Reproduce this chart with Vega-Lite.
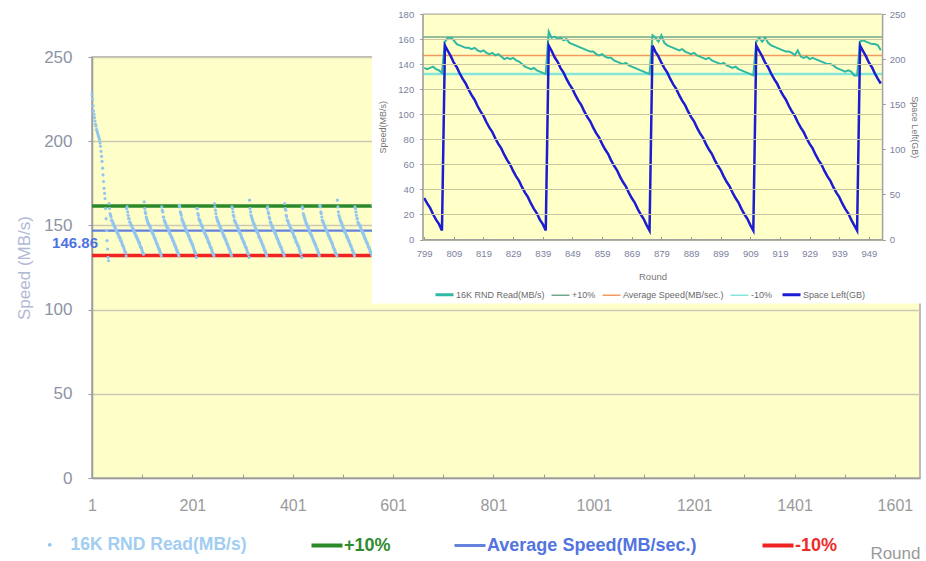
{
  "$schema": "https://vega.github.io/schema/vega-lite/v6.json",
  "width": 828,
  "height": 421,
  "autosize": {"type": "none"},
  "padding": {"left": 92, "top": 57, "right": 6, "bottom": 83},
  "background": "white",
  "config": {
    "view": {"fill": "#fefec9", "stroke": "#a5a5a5", "strokeWidth": 1.5},
    "font": "Liberation Sans"
  },
  "datasets": {
    "main": [
      {"r":1,"v":228},{"r":2,"v":225},{"r":3,"v":221},{"r":4,"v":218},{"r":5,"v":216},{"r":6,"v":214},{"r":7,"v":212},{"r":8,"v":210},{"r":9,"v":209},{"r":10,"v":207},{"r":11,"v":206},{"r":12,"v":205},{"r":13,"v":204},{"r":14,"v":203},{"r":15,"v":202},{"r":16,"v":201},{"r":17,"v":199},{"r":18,"v":197},{"r":19,"v":194},{"r":20,"v":191},{"r":21,"v":188},{"r":22,"v":184},{"r":23,"v":180},{"r":24,"v":176},{"r":25,"v":172},{"r":26,"v":169},{"r":27,"v":166},{"r":28,"v":160},{"r":29,"v":154},{"r":30,"v":147},{"r":31,"v":141},{"r":32,"v":136},{"r":33,"v":131},{"r":34,"v":129},
      {"r":35,"v":163},{"r":36,"v":160},{"r":37,"v":157},{"r":38,"v":156},{"r":39,"v":155},{"r":40,"v":153},{"r":41,"v":153},{"r":42,"v":152},{"r":43,"v":151},{"r":44,"v":151},{"r":45,"v":150},{"r":46,"v":149},{"r":47,"v":149},{"r":48,"v":148},{"r":49,"v":147},{"r":50,"v":147},{"r":51,"v":146},{"r":52,"v":145},{"r":53,"v":145},{"r":54,"v":144},{"r":55,"v":143},{"r":56,"v":143},{"r":57,"v":142},{"r":58,"v":141},{"r":59,"v":141},{"r":60,"v":140},{"r":61,"v":139},{"r":62,"v":138},{"r":63,"v":138},{"r":64,"v":137},{"r":65,"v":136},{"r":66,"v":135},{"r":67,"v":134},{"r":68,"v":134},{"r":69,"v":132},
      {"r":70,"v":160},{"r":71,"v":161},{"r":72,"v":158},{"r":73,"v":156},{"r":74,"v":154},{"r":75,"v":154},{"r":76,"v":152},{"r":77,"v":152},{"r":78,"v":151},{"r":79,"v":150},{"r":80,"v":150},{"r":81,"v":149},{"r":82,"v":148},{"r":83,"v":148},{"r":84,"v":147},{"r":85,"v":146},{"r":86,"v":146},{"r":87,"v":145},{"r":88,"v":144},{"r":89,"v":144},{"r":90,"v":143},{"r":91,"v":142},{"r":92,"v":142},{"r":93,"v":141},{"r":94,"v":140},{"r":95,"v":140},{"r":96,"v":139},{"r":97,"v":138},{"r":98,"v":137},{"r":99,"v":137},{"r":100,"v":136},{"r":101,"v":135},{"r":102,"v":134},{"r":103,"v":133},{"r":104,"v":133},
      {"r":105,"v":164},{"r":106,"v":160},{"r":107,"v":158},{"r":108,"v":157},{"r":109,"v":155},{"r":110,"v":154},{"r":111,"v":153},{"r":112,"v":152},{"r":113,"v":151},{"r":114,"v":151},{"r":115,"v":150},{"r":116,"v":150},{"r":117,"v":149},{"r":118,"v":148},{"r":119,"v":147},{"r":120,"v":147},{"r":121,"v":146},{"r":122,"v":145},{"r":123,"v":145},{"r":124,"v":144},{"r":125,"v":143},{"r":126,"v":142},{"r":127,"v":142},{"r":128,"v":141},{"r":129,"v":140},{"r":130,"v":139},{"r":131,"v":139},{"r":132,"v":138},{"r":133,"v":137},{"r":134,"v":136},{"r":135,"v":136},{"r":136,"v":135},{"r":137,"v":134},{"r":138,"v":133},{"r":139,"v":132},
      {"r":140,"v":161},{"r":141,"v":159},{"r":142,"v":158},{"r":143,"v":155},{"r":144,"v":155},{"r":145,"v":153},{"r":146,"v":152},{"r":147,"v":152},{"r":148,"v":151},{"r":149,"v":150},{"r":150,"v":149},{"r":151,"v":149},{"r":152,"v":148},{"r":153,"v":148},{"r":154,"v":147},{"r":155,"v":146},{"r":156,"v":145},{"r":157,"v":145},{"r":158,"v":144},{"r":159,"v":143},{"r":160,"v":143},{"r":161,"v":142},{"r":162,"v":141},{"r":163,"v":141},{"r":164,"v":140},{"r":165,"v":139},{"r":166,"v":138},{"r":167,"v":138},{"r":168,"v":137},{"r":169,"v":136},{"r":170,"v":135},{"r":171,"v":135},{"r":172,"v":134},{"r":173,"v":133},{"r":174,"v":132},
      {"r":175,"v":162},{"r":176,"v":161},{"r":177,"v":158},{"r":178,"v":157},{"r":179,"v":156},{"r":180,"v":154},{"r":181,"v":153},{"r":182,"v":152},{"r":183,"v":152},{"r":184,"v":151},{"r":185,"v":150},{"r":186,"v":149},{"r":187,"v":149},{"r":188,"v":148},{"r":189,"v":147},{"r":190,"v":146},{"r":191,"v":146},{"r":192,"v":145},{"r":193,"v":144},{"r":194,"v":144},{"r":195,"v":143},{"r":196,"v":142},{"r":197,"v":141},{"r":198,"v":141},{"r":199,"v":140},{"r":200,"v":139},{"r":201,"v":139},{"r":202,"v":138},{"r":203,"v":137},{"r":204,"v":136},{"r":205,"v":135},{"r":206,"v":134},{"r":207,"v":134},{"r":208,"v":133},{"r":209,"v":131},
      {"r":210,"v":160},{"r":211,"v":160},{"r":212,"v":157},{"r":213,"v":156},{"r":214,"v":154},{"r":215,"v":153},{"r":216,"v":153},{"r":217,"v":152},{"r":218,"v":151},{"r":219,"v":150},{"r":220,"v":150},{"r":221,"v":149},{"r":222,"v":148},{"r":223,"v":147},{"r":224,"v":147},{"r":225,"v":146},{"r":226,"v":145},{"r":227,"v":145},{"r":228,"v":144},{"r":229,"v":143},{"r":230,"v":143},{"r":231,"v":142},{"r":232,"v":141},{"r":233,"v":140},{"r":234,"v":140},{"r":235,"v":139},{"r":236,"v":138},{"r":237,"v":137},{"r":238,"v":137},{"r":239,"v":136},{"r":240,"v":135},{"r":241,"v":134},{"r":242,"v":133},{"r":243,"v":133},{"r":244,"v":132},
      {"r":245,"v":163},{"r":246,"v":161},{"r":247,"v":159},{"r":248,"v":157},{"r":249,"v":155},{"r":250,"v":154},{"r":251,"v":153},{"r":252,"v":152},{"r":253,"v":152},{"r":254,"v":151},{"r":255,"v":150},{"r":256,"v":149},{"r":257,"v":149},{"r":258,"v":148},{"r":259,"v":147},{"r":260,"v":147},{"r":261,"v":146},{"r":262,"v":145},{"r":263,"v":144},{"r":264,"v":144},{"r":265,"v":143},{"r":266,"v":142},{"r":267,"v":142},{"r":268,"v":141},{"r":269,"v":140},{"r":270,"v":139},{"r":271,"v":139},{"r":272,"v":138},{"r":273,"v":137},{"r":274,"v":136},{"r":275,"v":136},{"r":276,"v":135},{"r":277,"v":134},{"r":278,"v":133},{"r":279,"v":132},
      {"r":280,"v":161},{"r":281,"v":160},{"r":282,"v":158},{"r":283,"v":156},{"r":284,"v":155},{"r":285,"v":153},{"r":286,"v":152},{"r":287,"v":152},{"r":288,"v":151},{"r":289,"v":150},{"r":290,"v":150},{"r":291,"v":149},{"r":292,"v":148},{"r":293,"v":148},{"r":294,"v":147},{"r":295,"v":146},{"r":296,"v":145},{"r":297,"v":145},{"r":298,"v":144},{"r":299,"v":143},{"r":300,"v":142},{"r":301,"v":142},{"r":302,"v":141},{"r":303,"v":140},{"r":304,"v":140},{"r":305,"v":139},{"r":306,"v":138},{"r":307,"v":137},{"r":308,"v":137},{"r":309,"v":136},{"r":310,"v":135},{"r":311,"v":134},{"r":312,"v":133},{"r":313,"v":133},{"r":314,"v":131},
      {"r":315,"v":165},{"r":316,"v":160},{"r":317,"v":158},{"r":318,"v":156},{"r":319,"v":155},{"r":320,"v":154},{"r":321,"v":153},{"r":322,"v":152},{"r":323,"v":151},{"r":324,"v":151},{"r":325,"v":150},{"r":326,"v":149},{"r":327,"v":148},{"r":328,"v":148},{"r":329,"v":147},{"r":330,"v":146},{"r":331,"v":146},{"r":332,"v":145},{"r":333,"v":144},{"r":334,"v":143},{"r":335,"v":143},{"r":336,"v":142},{"r":337,"v":141},{"r":338,"v":141},{"r":339,"v":140},{"r":340,"v":139},{"r":341,"v":138},{"r":342,"v":138},{"r":343,"v":137},{"r":344,"v":136},{"r":345,"v":135},{"r":346,"v":135},{"r":347,"v":134},{"r":348,"v":133},{"r":349,"v":132},
      {"r":350,"v":160},{"r":351,"v":161},{"r":352,"v":158},{"r":353,"v":157},{"r":354,"v":155},{"r":355,"v":154},{"r":356,"v":152},{"r":357,"v":152},{"r":358,"v":151},{"r":359,"v":150},{"r":360,"v":149},{"r":361,"v":149},{"r":362,"v":148},{"r":363,"v":147},{"r":364,"v":147},{"r":365,"v":146},{"r":366,"v":145},{"r":367,"v":145},{"r":368,"v":144},{"r":369,"v":143},{"r":370,"v":142},{"r":371,"v":142},{"r":372,"v":141},{"r":373,"v":140},{"r":374,"v":139},{"r":375,"v":139},{"r":376,"v":138},{"r":377,"v":137},{"r":378,"v":137},{"r":379,"v":136},{"r":380,"v":135},{"r":381,"v":134},{"r":382,"v":134},{"r":383,"v":133},{"r":384,"v":132},
      {"r":385,"v":163},{"r":386,"v":160},{"r":387,"v":159},{"r":388,"v":156},{"r":389,"v":155},{"r":390,"v":153},{"r":391,"v":153},{"r":392,"v":152},{"r":393,"v":151},{"r":394,"v":150},{"r":395,"v":150},{"r":396,"v":149},{"r":397,"v":148},{"r":398,"v":148},{"r":399,"v":147},{"r":400,"v":146},{"r":401,"v":146},{"r":402,"v":145},{"r":403,"v":144},{"r":404,"v":143},{"r":405,"v":143},{"r":406,"v":142},{"r":407,"v":141},{"r":408,"v":140},{"r":409,"v":140},{"r":410,"v":139},{"r":411,"v":138},{"r":412,"v":138},{"r":413,"v":137},{"r":414,"v":136},{"r":415,"v":135},{"r":416,"v":134},{"r":417,"v":133},{"r":418,"v":133},{"r":419,"v":131},
      {"r":420,"v":161},{"r":421,"v":160},{"r":422,"v":157},{"r":423,"v":156},{"r":424,"v":155},{"r":425,"v":154},{"r":426,"v":153},{"r":427,"v":152},{"r":428,"v":151},{"r":429,"v":151},{"r":430,"v":150},{"r":431,"v":149},{"r":432,"v":149},{"r":433,"v":148},{"r":434,"v":147},{"r":435,"v":146},{"r":436,"v":145},{"r":437,"v":145},{"r":438,"v":144},{"r":439,"v":144},{"r":440,"v":143},{"r":441,"v":142},{"r":442,"v":141},{"r":443,"v":141},{"r":444,"v":140},{"r":445,"v":139},{"r":446,"v":139},{"r":447,"v":138},{"r":448,"v":137},{"r":449,"v":136},{"r":450,"v":136},{"r":451,"v":135},{"r":452,"v":134},{"r":453,"v":133},{"r":454,"v":132},
      {"r":455,"v":162},{"r":456,"v":161},{"r":457,"v":158},{"r":458,"v":157},{"r":459,"v":155},{"r":460,"v":153},{"r":461,"v":152},{"r":462,"v":152},{"r":463,"v":151},{"r":464,"v":150},{"r":465,"v":149},{"r":466,"v":149},{"r":467,"v":148},{"r":468,"v":147},{"r":469,"v":147},{"r":470,"v":146},{"r":471,"v":145},{"r":472,"v":144},{"r":473,"v":144},{"r":474,"v":143},{"r":475,"v":142},{"r":476,"v":142},{"r":477,"v":141},{"r":478,"v":140},{"r":479,"v":140},{"r":480,"v":139},{"r":481,"v":138},{"r":482,"v":137},{"r":483,"v":136},{"r":484,"v":136},{"r":485,"v":135},{"r":486,"v":134},{"r":487,"v":133},{"r":488,"v":133},{"r":489,"v":132},
      {"r":490,"v":165},{"r":491,"v":161},{"r":492,"v":158},{"r":493,"v":156},{"r":494,"v":155},{"r":495,"v":154},{"r":496,"v":153},{"r":497,"v":152},{"r":498,"v":152},{"r":499,"v":151},{"r":500,"v":150},{"r":501,"v":149},{"r":502,"v":148},{"r":503,"v":148},{"r":504,"v":147},{"r":505,"v":146},{"r":506,"v":146},{"r":507,"v":145},{"r":508,"v":144},{"r":509,"v":143},{"r":510,"v":143},{"r":511,"v":142},{"r":512,"v":141},{"r":513,"v":141},{"r":514,"v":140},{"r":515,"v":139},{"r":516,"v":138},{"r":517,"v":138},{"r":518,"v":137},{"r":519,"v":136},{"r":520,"v":135},{"r":521,"v":135},{"r":522,"v":134},{"r":523,"v":133},{"r":524,"v":132},
      {"r":525,"v":161},{"r":526,"v":160},{"r":527,"v":158},{"r":528,"v":156},{"r":529,"v":154},{"r":530,"v":154},{"r":531,"v":152},{"r":532,"v":151},{"r":533,"v":151},{"r":534,"v":150},{"r":535,"v":150},{"r":536,"v":149},{"r":537,"v":148},{"r":538,"v":147},{"r":539,"v":147},{"r":540,"v":146},{"r":541,"v":145},{"r":542,"v":145},{"r":543,"v":144},{"r":544,"v":143},{"r":545,"v":142},{"r":546,"v":142},{"r":547,"v":141},{"r":548,"v":140},{"r":549,"v":140},{"r":550,"v":139},{"r":551,"v":138},{"r":552,"v":137},{"r":553,"v":137},{"r":554,"v":136},{"r":555,"v":135},{"r":556,"v":134},{"r":557,"v":134},{"r":558,"v":133},{"r":559,"v":132},{"r":560,"v":162}
    ],
    "mainRef": [
      {"series": "+10%", "v": 161.55},
      {"series": "Average Speed(MB/sec.)", "v": 146.86},
      {"series": "-10%", "v": 132.17}
    ],
    "mainLabel": [{"r": 1, "v": 146.86}],
    "inset": [
      {"r":799,"s":137,"g":46},{"r":800,"s":136,"g":40},{"r":801,"s":137,"g":35},{"r":802,"s":138,"g":28},{"r":803,"s":136,"g":22},{"r":804,"s":135,"g":17},{"r":805,"s":133,"g":10},
      {"r":806,"s":158,"g":215},{"r":807,"s":161,"g":209},{"r":808,"s":161,"g":203},{"r":809,"s":159,"g":196},{"r":810,"s":156,"g":191},{"r":811,"s":155,"g":184},{"r":812,"s":154,"g":178},{"r":813,"s":153,"g":173},{"r":814,"s":153,"g":166},{"r":815,"s":152,"g":160},{"r":816,"s":153,"g":155},{"r":817,"s":151,"g":148},{"r":818,"s":150,"g":142},{"r":819,"s":151,"g":137},{"r":820,"s":149,"g":130},{"r":821,"s":148,"g":124},{"r":822,"s":149,"g":119},{"r":823,"s":147,"g":112},{"r":824,"s":148,"g":106},{"r":825,"s":146,"g":101},{"r":826,"s":144,"g":94},{"r":827,"s":145,"g":88},{"r":828,"s":144,"g":83},{"r":829,"s":145,"g":76},{"r":830,"s":143,"g":70},{"r":831,"s":142,"g":65},{"r":832,"s":140,"g":58},{"r":833,"s":138,"g":52},{"r":834,"s":137,"g":47},{"r":835,"s":136,"g":40},{"r":836,"s":137,"g":34},{"r":837,"s":135,"g":29},{"r":838,"s":134,"g":22},{"r":839,"s":133,"g":17},{"r":840,"s":132,"g":10},
      {"r":841,"s":166,"g":215},{"r":842,"s":161,"g":209},{"r":843,"s":162,"g":202},{"r":844,"s":160,"g":197},{"r":845,"s":161,"g":190},{"r":846,"s":159,"g":185},{"r":847,"s":160,"g":178},{"r":848,"s":157,"g":172},{"r":849,"s":156,"g":167},{"r":850,"s":155,"g":160},{"r":851,"s":154,"g":154},{"r":852,"s":153,"g":149},{"r":853,"s":152,"g":142},{"r":854,"s":151,"g":136},{"r":855,"s":150,"g":131},{"r":856,"s":150,"g":124},{"r":857,"s":148,"g":118},{"r":858,"s":147,"g":113},{"r":859,"s":148,"g":106},{"r":860,"s":146,"g":100},{"r":861,"s":145,"g":95},{"r":862,"s":145,"g":88},{"r":863,"s":143,"g":82},{"r":864,"s":142,"g":77},{"r":865,"s":141,"g":70},{"r":866,"s":140,"g":64},{"r":867,"s":141,"g":59},{"r":868,"s":139,"g":52},{"r":869,"s":138,"g":46},{"r":870,"s":137,"g":41},{"r":871,"s":136,"g":34},{"r":872,"s":135,"g":28},{"r":873,"s":134,"g":23},{"r":874,"s":133,"g":16},{"r":875,"s":132,"g":10},
      {"r":876,"s":163,"g":215},{"r":877,"s":161,"g":208},{"r":878,"s":158,"g":203},{"r":879,"s":163,"g":196},{"r":880,"s":157,"g":190},{"r":881,"s":155,"g":185},{"r":882,"s":154,"g":178},{"r":883,"s":153,"g":172},{"r":884,"s":152,"g":167},{"r":885,"s":151,"g":160},{"r":886,"s":152,"g":154},{"r":887,"s":150,"g":149},{"r":888,"s":149,"g":142},{"r":889,"s":148,"g":136},{"r":890,"s":149,"g":131},{"r":891,"s":147,"g":124},{"r":892,"s":146,"g":118},{"r":893,"s":145,"g":113},{"r":894,"s":144,"g":106},{"r":895,"s":145,"g":100},{"r":896,"s":143,"g":95},{"r":897,"s":142,"g":88},{"r":898,"s":141,"g":82},{"r":899,"s":140,"g":77},{"r":900,"s":141,"g":70},{"r":901,"s":139,"g":64},{"r":902,"s":138,"g":59},{"r":903,"s":137,"g":52},{"r":904,"s":138,"g":46},{"r":905,"s":136,"g":41},{"r":906,"s":135,"g":34},{"r":907,"s":134,"g":28},{"r":908,"s":133,"g":23},{"r":909,"s":132,"g":16},{"r":910,"s":131,"g":10},
      {"r":911,"s":158,"g":215},{"r":912,"s":161,"g":209},{"r":913,"s":158,"g":203},{"r":914,"s":161,"g":196},{"r":915,"s":157,"g":191},{"r":916,"s":155,"g":184},{"r":917,"s":154,"g":178},{"r":918,"s":153,"g":173},{"r":919,"s":152,"g":166},{"r":920,"s":151,"g":160},{"r":921,"s":150,"g":155},{"r":922,"s":150,"g":148},{"r":923,"s":149,"g":142},{"r":924,"s":147,"g":137},{"r":925,"s":151,"g":130},{"r":926,"s":146,"g":124},{"r":927,"s":145,"g":119},{"r":928,"s":146,"g":112},{"r":929,"s":144,"g":106},{"r":930,"s":145,"g":101},{"r":931,"s":144,"g":94},{"r":932,"s":143,"g":88},{"r":933,"s":142,"g":83},{"r":934,"s":141,"g":76},{"r":935,"s":140,"g":70},{"r":936,"s":140,"g":65},{"r":937,"s":139,"g":58},{"r":938,"s":137,"g":52},{"r":939,"s":136,"g":47},{"r":940,"s":135,"g":40},{"r":941,"s":134,"g":34},{"r":942,"s":135,"g":29},{"r":943,"s":134,"g":22},{"r":944,"s":131,"g":16},{"r":945,"s":131,"g":10},
      {"r":946,"s":158,"g":215},{"r":947,"s":159,"g":209},{"r":948,"s":158,"g":203},{"r":949,"s":157,"g":196},{"r":950,"s":156,"g":191},{"r":951,"s":156,"g":184},{"r":952,"s":155,"g":178},{"r":953,"s":151,"g":173}
    ],
    "insetRef": [
      {"name": "+10%", "v": 161.55},
      {"name": "Average Speed(MB/sec.)", "v": 146.86},
      {"name": "-10%", "v": 132.17}
    ]
  },
  "layer": [
    {
      "layer": [
        {
          "data": {"name": "mainRef"},
          "mark": {"type": "rule"},
          "encoding": {
            "y": {
              "field": "v", "type": "quantitative",
              "scale": {"domain": [0, 250], "nice": false, "zero": false},
              "axis": {
                "values": [0, 50, 100, 150, 200, 250],
                "grid": true, "gridColor": "#cbc9b2", "gridWidth": 1.5,
                "domainColor": "#9d9d9d", "domainWidth": 1.5,
                "tickColor": "#9d9d9d", "tickSize": 4,
                "labelFontSize": 17, "labelColor": "#8e93a6", "labelPadding": 16,
                "title": "Speed (MB/s)", "titleFontSize": 17, "titleFontWeight": "normal",
                "titleColor": "#b0b9d6", "titlePadding": 10, "zindex": 0
              }
            },
            "color": {
              "field": "series", "type": "nominal", "title": null,
              "scale": {
                "domain": ["+10%", "Average Speed(MB/sec.)", "-10%"],
                "range": ["#2a8a2a", "#6482dc", "#f02222"]
              },
              "legend": {
                "orient": "none", "legendX": 226, "legendY": 479.5,
                "direction": "horizontal", "title": null,
                "columnPadding": 57, "symbolSize": 961, "symbolType": "stroke",
                "symbolStrokeWidth": {"expr": "datum.value === 'Average Speed(MB/sec.)' ? 3 : 4"},
                "labelFontSize": 18, "labelFontWeight": "bold",
                "labelOffset": 8, "labelLimit": 400,
                "labelColor": {"expr": "datum.value === '+10%' ? '#2e8b2e' : datum.value === '-10%' ? '#ee2b2b' : '#5274e0'"}
              }
            },
            "strokeWidth": {"condition": {"test": "datum.series === 'Average Speed(MB/sec.)'", "value": 2.2}, "value": 3.5}
          }
        },
        {
          "data": {"name": "main"},
          "mark": {"type": "point", "filled": true, "opacity": 1, "size": 10, "shape": "circle"},
          "encoding": {
            "x": {
              "field": "r", "type": "quantitative",
              "scale": {"domain": [1, 1651], "nice": false, "zero": false},
              "axis": {
                "values": [1, 101, 201, 301, 401, 501, 601, 701, 801, 901, 1001, 1101, 1201, 1301, 1401, 1501, 1601],
                "format": "d",
                "labelExpr": "(datum.value - 1) % 200 === 0 ? datum.label : ''",
                "grid": false,
                "domainColor": "#9d9d9d", "domainWidth": 1.5,
                "tickColor": "#9d9d9d", "tickSize": -4,
                "labelFontSize": 16, "labelColor": "#9a9a9a", "labelPadding": 23,
                "labelFlush": false, "labelOverlap": false,
                "title": "Round", "titleAnchor": "end", "titleFontSize": 17,
                "titleFontWeight": "normal", "titleColor": "#9a9a9a", "titlePadding": 32,
                "zindex": 0
              }
            },
            "y": {"field": "v", "type": "quantitative"},
            "fill": {
              "datum": "16K RND Read(MB/s)", "type": "nominal", "title": null,
              "scale": {"domain": ["16K RND Read(MB/s)"], "range": ["#93c6ef"]},
              "legend": {
                "orient": "none", "legendX": -51, "legendY": 479,
                "title": null, "symbolSize": 14, "symbolType": "circle",
                "labelFontSize": 17.5, "labelFontWeight": "bold", "labelOffset": 12,
                "labelColor": "#a2cdf2", "labelLimit": 400
              }
            }
          }
        },
        {
          "data": {"name": "mainLabel"},
          "mark": {"type": "text", "align": "right", "baseline": "middle", "dx": 6, "dy": 12.5, "fontSize": 15, "fontWeight": "bold", "color": "#4d72e2"},
          "encoding": {
            "x": {"field": "r", "type": "quantitative"},
            "y": {"field": "v", "type": "quantitative"},
            "text": {"field": "v", "type": "quantitative", "format": ".2f"}
          }
        },
        {
          "data": {"values": [{}]},
          "mark": {"type": "rect", "fill": "white", "strokeWidth": 0},
          "encoding": {
            "x": {"datum": 559, "type": "quantitative"},
            "x2": {"datum": 1663},
            "y": {"datum": 103.6, "type": "quantitative"},
            "y2": {"datum": 283.85}
          }
        }
      ]
    },
    {
      "layer": [
        {
          "layer": [
            {
              "data": {"values": [{}]},
              "mark": {"type": "rect", "fill": "#ffffc8", "stroke": "#a8a8a8", "strokeWidth": 1},
              "encoding": {
                "x": {"datum": 798.5, "type": "quantitative"},
                "x2": {"datum": 953.5},
                "y": {"datum": 0, "type": "quantitative"},
                "y2": {"datum": 180}
              }
            },
            {
              "data": {"name": "insetRef"},
              "mark": {"type": "rule"},
              "encoding": {
                "x": {"datum": 798.5, "type": "quantitative"},
                "x2": {"datum": 953.5},
                "y": {"field": "v", "type": "quantitative"},
                "color": {"field": "name", "type": "nominal", "title": null, "legend": {"title": null}},
                "strokeWidth": {"condition": {"test": "datum.name === '-10%'", "value": 2.5}, "value": 1.5}
              }
            },
            {
              "data": {"name": "inset"},
              "mark": {"type": "line", "strokeWidth": 2},
              "encoding": {
                "x": {
                  "field": "r", "type": "quantitative",
                  "scale": {"domain": [798.5, 953.5], "range": [330.7, 790.3], "nice": false, "zero": false},
                  "axis": {
                    "orient": "bottom", "offset": -238.5,
                    "values": [799, 809, 819, 829, 839, 849, 859, 869, 879, 889, 899, 909, 919, 929, 939, 949],
                    "format": "d", "grid": false,
                    "domainColor": "#9a9a9a", "tickColor": "#9a9a9a", "tickSize": -3,
                    "labelFontSize": 9.5, "labelColor": "#7c7f9e", "labelPadding": 12,
                    "labelFlush": false, "labelOverlap": false,
                    "title": "Round", "titleFontSize": 9.5, "titleFontWeight": "normal",
                    "titleColor": "#777777", "titlePadding": 13, "zindex": 1
                  }
                },
                "y": {
                  "field": "s", "type": "quantitative",
                  "scale": {"domain": [0, 180], "range": [182.5, -43], "nice": false, "zero": false},
                  "axis": {
                    "orient": "left", "offset": -330.7,
                    "values": [0, 20, 40, 60, 80, 100, 120, 140, 160, 180],
                    "grid": true, "gridColor": "#cac7a2", "gridWidth": 1,
                    "domainColor": "#9a9a9a", "tickColor": "#9a9a9a", "tickSize": 3,
                    "labelFontSize": 9.5, "labelColor": "#7c7f9e", "labelPadding": 6,
                    "title": "Speed(MB/s)", "titleFontSize": 9, "titleFontWeight": "normal",
                    "titleColor": "#777777", "titlePadding": 10, "zindex": 1
                  }
                },
                "color": {
                  "datum": "16K RND Read(MB/s)", "type": "nominal", "title": null,
                  "scale": {
                    "domain": ["16K RND Read(MB/s)", "+10%", "Average Speed(MB/sec.)", "-10%", "Space Left(GB)"],
                    "range": ["#2fb8a2", "#72a98c", "#f29b5f", "#84e6da", "#1c1cd2"]
                  },
                  "legend": {
                    "orient": "none", "legendX": 348, "legendY": 233,
                    "direction": "horizontal", "title": null,
                    "columnPadding": 3, "symbolSize": 324, "symbolType": "stroke",
                    "symbolStrokeWidth": {"expr": "datum.value === '16K RND Read(MB/s)' || datum.value === 'Space Left(GB)' ? 3 : 1.5"},
                    "labelFontSize": 9, "labelColor": "#6a6a6a",
                    "labelOffset": 7, "labelLimit": 300
                  }
                }
              }
            }
          ]
        },
        {
          "data": {"name": "inset"},
          "mark": {"type": "line", "strokeWidth": 2.5},
          "encoding": {
            "x": {"field": "r", "type": "quantitative"},
            "y": {
              "field": "g", "type": "quantitative",
              "scale": {"domain": [0, 250], "range": [182.5, -43], "nice": false, "zero": false},
              "axis": {
                "orient": "right", "offset": -37.7,
                "values": [0, 50, 100, 150, 200, 250],
                "grid": false,
                "domainColor": "#9a9a9a", "tickColor": "#9a9a9a", "tickSize": 3,
                "labelFontSize": 9.5, "labelColor": "#7c7f9e", "labelPadding": 4,
                "title": "Space Left(GB)", "titleFontSize": 9, "titleFontWeight": "normal",
                "titleColor": "#777777", "titlePadding": 4, "zindex": 1
              }
            },
            "color": {"datum": "Space Left(GB)", "type": "nominal", "title": null}
          }
        }
      ],
      "resolve": {"scale": {"y": "independent"}}
    }
  ],
  "resolve": {"scale": {"x": "independent", "y": "independent", "color": "independent", "fill": "independent"}}
}
